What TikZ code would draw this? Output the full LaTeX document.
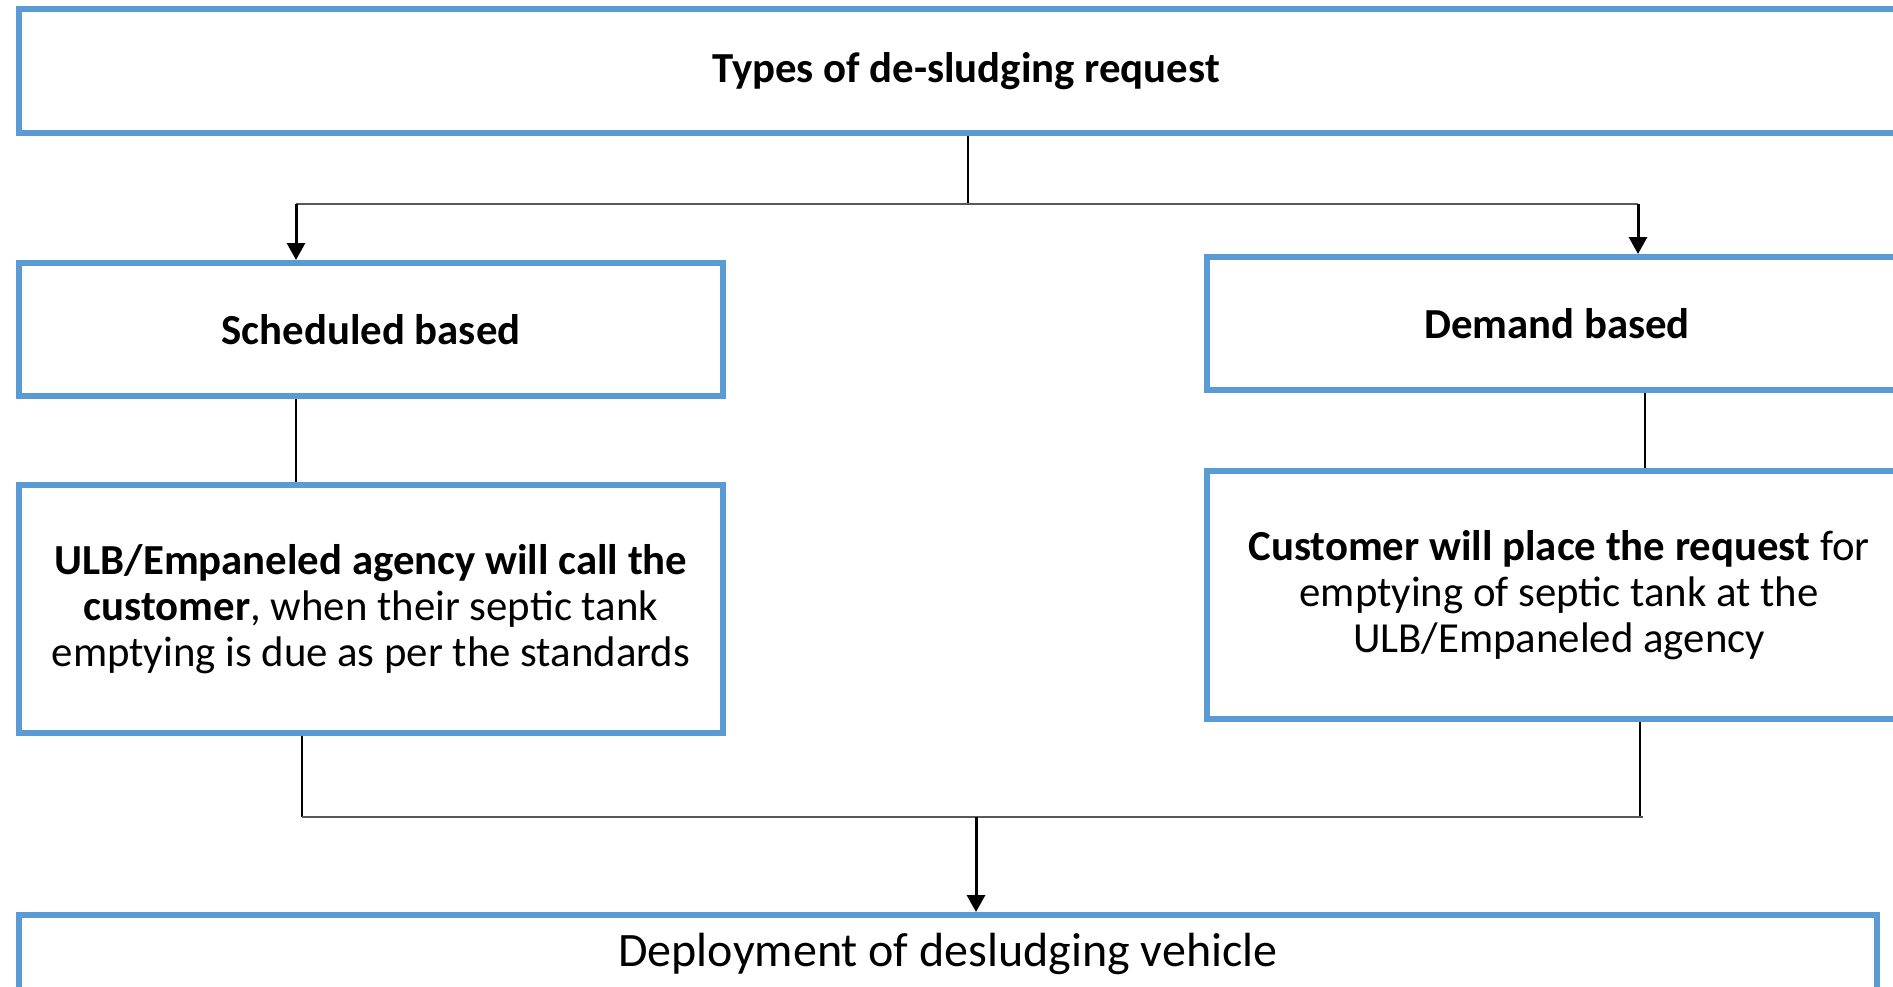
\documentclass[tikz,border=0pt]{standalone}
\usepackage{fontspec}
\setmainfont{Carlito}
\usetikzlibrary{arrows.meta}
\definecolor{boxblue}{HTML}{5B9BD5}
\begin{document}
\begin{tikzpicture}[x=0.5pt,y=-0.5pt,
  box/.style={draw=boxblue,line width=3pt,fill=white,inner sep=0pt,font=\fontsize{21.4}{23}\selectfont,align=center},
  conn/.style={black,line width=1pt},
  hline/.style={gray!70!black,line width=0.9pt},
  arr/.style={black,line width=1.5pt,-{Triangle[width=9pt,length=8.5pt]}}]
\useasboundingbox (0,0) rectangle (1893,986);
\clip (0,0) rectangle (1893,986);
% boxes
\node[box,minimum width=947pt,minimum height=62pt] (top) at (966,71) {\textbf{Types of de-sludging request}};
\node[box,minimum width=352pt,minimum height=66.5pt] (sched) at (371,329.5) {\textbf{Scheduled based}};
\node[box,minimum width=350pt,minimum height=66.5pt] (dem) at (1557,323.5) {\textbf{Demand based}};
\node[box,minimum width=352pt,minimum height=124pt] (ulb) at (371,609) {\textbf{ULB/Empaneled agency will call the}\\\textbf{customer}, when their septic tank\\emptying is due as per the standards};
\node[box,minimum width=352pt,minimum height=124pt] (cust) at (1559,595) {\textbf{Customer will place the request} for\\emptying of septic tank at the\\ULB/Empaneled agency};
\node[box,minimum width=929pt,minimum height=39pt,font=\fontsize{24}{28}\selectfont] (deploy) at (948,954) {Deployment of desludging vehicle};
% junction coordinates
\coordinate (jt) at (968,204);
\coordinate (jl) at (296,204);
\coordinate (jr) at (1638,204);
\coordinate (xr) at (1645,400);
\coordinate (bl) at (302,817);
\coordinate (br) at (1640,817);
\coordinate (bm) at (976,817);
% connectors
\draw[conn] (top.south -| jt) -- (jt);
\draw[hline] (jl) -- (jr);
\draw[arr] (jl) -- (sched.north -| jl);
\draw[arr] (jr) -- (dem.north -| jr);
\draw[conn] (sched.south -| jl) -- (ulb.north -| jl);
\draw[conn] (dem.south -| xr) -- (cust.north -| xr);
\draw[conn] (ulb.south -| bl) -- (bl);
\draw[conn] (cust.south -| br) -- (br);
\draw[hline] (bl) -- ([xshift=1.5pt]br);
\draw[arr] (bm) -- (deploy.north -| bm);
\end{tikzpicture}
\end{document}
